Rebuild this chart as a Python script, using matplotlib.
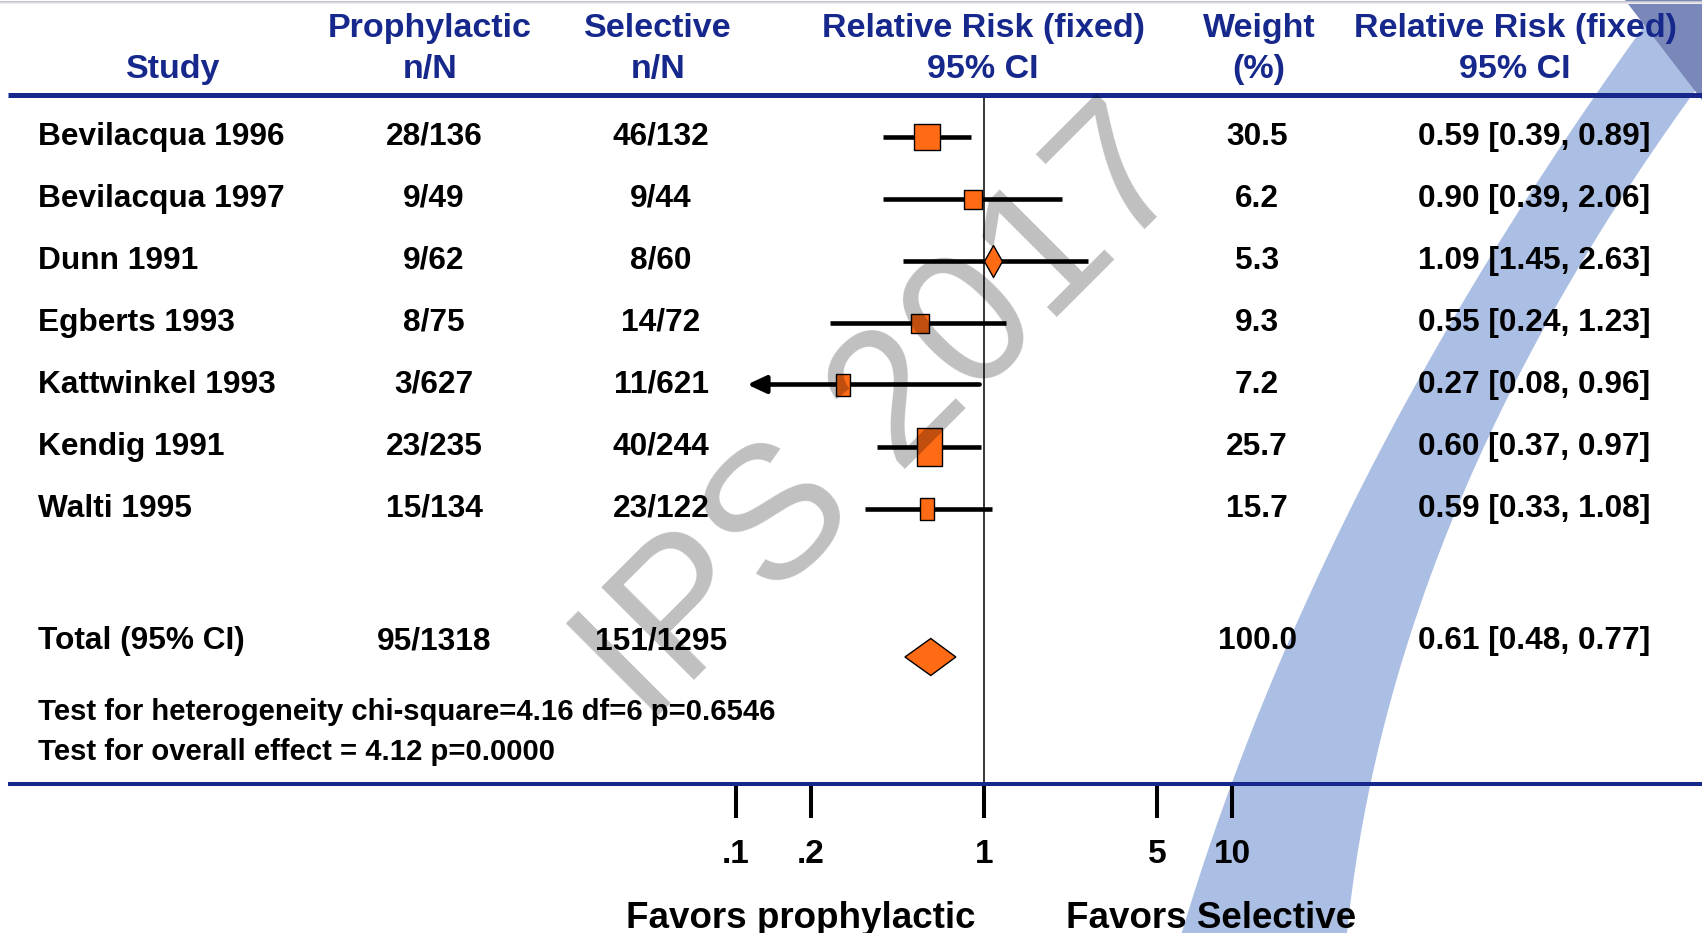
import matplotlib
matplotlib.use("Agg")
import matplotlib.pyplot as plt
import numpy as np
from matplotlib.path import Path
from matplotlib.patches import Polygon
from matplotlib.lines import Line2D
from matplotlib.ticker import NullLocator

# ---- study data ----
studies = ["Bevilacqua 1996", "Bevilacqua 1997", "Dunn 1991", "Egberts 1993",
           "Kattwinkel 1993", "Kendig 1991", "Walti 1995"]
prophylactic = ["28/136", "9/49", "9/62", "8/75", "3/627", "23/235", "15/134"]
selective = ["46/132", "9/44", "8/60", "14/72", "11/621", "40/244", "23/122"]
weight = [30.5, 6.2, 5.3, 9.3, 7.2, 25.7, 15.7]
rr = [0.59, 0.90, 1.09, 0.55, 0.27, 0.60, 0.59]
ci_lo = [0.39, 0.39, 0.47, 0.24, 0.08, 0.37, 0.33]
ci_hi = [0.89, 2.06, 2.63, 1.23, 0.96, 0.97, 1.08]
rr_ci_text = ["0.59 [0.39, 0.89]", "0.90 [0.39, 2.06]", "1.09 [1.45, 2.63]",
              "0.55 [0.24, 1.23]", "0.27 [0.08, 0.96]", "0.60 [0.37, 0.97]",
              "0.59 [0.33, 1.08]"]

total_label = "Total (95% CI)"
total_prophylactic = "95/1318"
total_selective = "151/1295"
total_weight = 100.0
total_rr, total_lo, total_hi = 0.61, 0.48, 0.77

heterogeneity = "Test for heterogeneity chi-square=4.16 df=6 p=0.6546"
overall = "Test for overall effect = 4.12 p=0.0000"

tick_values = [0.1, 0.2, 1, 5, 10]
tick_labels = [".1", ".2", "1", "5", "10"]

# ---- styling ----
W, H = 1702, 933
NAVY = "#16288c"
ORANGE = "#ff6a14"
BAND = "#abbee3"

# box sizes (px) and marker shapes per study
box_w = [26, 18, 18, 18, 14, 25, 14]
box_h = [26, 19, 32, 19, 23, 38, 23]
box_shape = ["s", "s", "d", "s", "s", "s", "s"]

plt.rcParams["font.family"] = ["Liberation Sans", "DejaVu Sans"]
plt.rcParams["font.weight"] = "bold"

fig = plt.figure(figsize=(W / 100, H / 100), dpi=100)
fig.patch.set_facecolor("white")

# background axes in pixel coordinates (y down)
bg = fig.add_axes([0, 0, 1, 1])
bg.set_xlim(0, W)
bg.set_ylim(H, 0)
bg.axis("off")

# curved blue swoosh behind the table
left_edge = [(1655, 0), (1593, 100), (1550, 180), (1497, 260), (1448, 320), (1411, 382),
             (1381, 444), (1354, 506), (1290, 638), (1225, 783), (1187, 933)]
right_edge = [(1760, 0), (1692, 100), (1637, 180), (1582, 260), (1550, 320), (1512, 382),
              (1485, 444), (1458, 506), (1409, 638), (1370, 783), (1348, 933)]
yy = np.linspace(-10, H + 10, 120)
le = np.array(left_edge)
re = np.array(right_edge)
xl = np.polyval(np.polyfit(le[:, 1], le[:, 0], 2), yy)
xr = np.polyval(np.polyfit(re[:, 1], re[:, 0], 2), yy)
band = np.vstack([np.column_stack([xl, yy]), np.column_stack([xr, yy])[::-1]])
bg.add_patch(Polygon(band, closed=True, facecolor=BAND, edgecolor="none", zorder=0))
bg.add_patch(Polygon([(1625, 0), (1702, 0), (1702, 100)], closed=True,
                     facecolor="#7a88b9", edgecolor="none", zorder=0.5))

# faint shadow at the top edge
for k, c in enumerate(["#c4c4ca", "#d8d8de", "#ececf0"]):
    bg.axhline(k + 0.5, color=c, lw=0.75, zorder=0.6)

# header
hdr_size = 24.5
hdr1, hdr2 = 37.2, 78.2
headers = [(173, None, "Study"),
           (430, "Prophylactic", "n/N"),
           (658, "Selective", "n/N"),
           (983, "Relative Risk (fixed)", "95% CI"),
           (1259, "Weight", "(%)"),
           (1515, "Relative Risk (fixed)", "95% CI")]
for x, top, bottom in headers:
    if top:
        bg.text(x, hdr1, top, ha="center", va="baseline", color=NAVY, fontsize=hdr_size)
    bg.text(x, hdr2, bottom, ha="center", va="baseline", color=NAVY, fontsize=hdr_size)

# table body
row_size = 22.8
row0, step = 133.5, 62.0
rows_y = row0 + step * np.arange(len(studies))
base = 11.3
name_x, proph_x, sel_x, wt_x, rr_x = 38, 434, 661, 1257, 1534
for i, y in enumerate(rows_y):
    bg.text(name_x, y + base, studies[i], ha="left", va="baseline", fontsize=row_size)
    bg.text(proph_x, y + base, prophylactic[i], ha="center", va="baseline", fontsize=row_size)
    bg.text(sel_x, y + base, selective[i], ha="center", va="baseline", fontsize=row_size)
    bg.text(wt_x, y + base, f"{weight[i]:.1f}", ha="center", va="baseline", fontsize=row_size)
    bg.text(rr_x, y + base, rr_ci_text[i], ha="center", va="baseline", fontsize=row_size)

total_y = 638
bg.text(name_x, total_y + base, total_label, ha="left", va="baseline", fontsize=row_size)
bg.text(proph_x, total_y + base, total_prophylactic, ha="center", va="baseline", fontsize=row_size)
bg.text(sel_x, total_y + base, total_selective, ha="center", va="baseline", fontsize=row_size)
bg.text(wt_x, total_y + base, f"{total_weight:.1f}", ha="center", va="baseline", fontsize=row_size)
bg.text(rr_x, total_y + base, f"{total_rr:.2f} [{total_lo:.2f}, {total_hi:.2f}]",
        ha="center", va="baseline", fontsize=row_size)

bg.text(name_x, 720.5, heterogeneity, ha="left", va="baseline", fontsize=21.1)
bg.text(name_x, 759.5, overall, ha="left", va="baseline", fontsize=21.1)

# favours labels
bg.text(801, 928, "Favors prophylactic", ha="center", va="baseline", fontsize=26.5)
bg.text(1211, 928, "Favors Selective", ha="center", va="baseline", fontsize=26.5)

# ---- forest plot (log scale) ----
ax = fig.add_axes([736 / W, (H - 784) / H, (1232 - 736) / W, (784 - 94) / H])
ax.set_facecolor("none")
ax.set_xscale("log")
ax.set_xlim(0.1, 10)
ax.set_ylim(784, 94)
for s in ax.spines.values():
    s.set_visible(False)
ax.set_xticks(tick_values, tick_labels)
ax.xaxis.set_minor_locator(NullLocator())
ax.tick_params(axis="x", length=24.5, width=2.9, pad=15, labelsize=24, color="black")
ax.set_yticks([])

ax.axvline(1, color="black", lw=1.1, zorder=1)

x_floor = 0.111
for i, y in enumerate(rows_y):
    ym = y + 3
    if ci_lo[i] < ax.get_xlim()[0]:
        ax.annotate("", xy=(x_floor, ym), xytext=(ci_hi[i], ym),
                    arrowprops=dict(arrowstyle="-|>,head_length=0.75,head_width=0.35",
                                    mutation_scale=15, lw=3.3, color="black",
                                    shrinkA=0, shrinkB=0), zorder=2)
    else:
        ax.plot([ci_lo[i], ci_hi[i]], [ym, ym], color="black", lw=3.3,
                solid_capstyle="butt", zorder=2)
    w, h = box_w[i], box_h[i]
    if box_shape[i] == "d":
        verts = [(0, -h / 2), (w / 2, 0), (0, h / 2), (-w / 2, 0), (0, -h / 2)]
    else:
        verts = [(-w / 2, -h / 2), (w / 2, -h / 2), (w / 2, h / 2), (-w / 2, h / 2), (-w / 2, -h / 2)]
    ax.plot(rr[i], ym, marker=Path(verts, closed=True), markersize=max(w, h) * 0.72,
            markerfacecolor=ORANGE, markeredgecolor="black", markeredgewidth=1.0,
            linestyle="none", zorder=3)

# pooled estimate diamond
dy = 657
dh = 37
ax.fill([total_lo, total_rr, total_hi, total_rr],
        [dy, dy - dh / 2, dy, dy + dh / 2],
        facecolor=ORANGE, edgecolor="black", lw=1.0, zorder=3)

# navy rules above and below the table
for y, lw in [(94.5, 3.6), (784, 2.9)]:
    fig.add_artist(Line2D([8, W], [y, y], color=NAVY, lw=lw,
                          solid_capstyle="butt", transform=bg.transData))

# watermark
fig.text(887 / W, 1 - 418 / H, "IPS 2017", rotation=45, rotation_mode="anchor",
         ha="center", va="center", fontsize=136, fontweight="normal",
         color="black", alpha=0.25)

fig.savefig("out.png", dpi=100)
